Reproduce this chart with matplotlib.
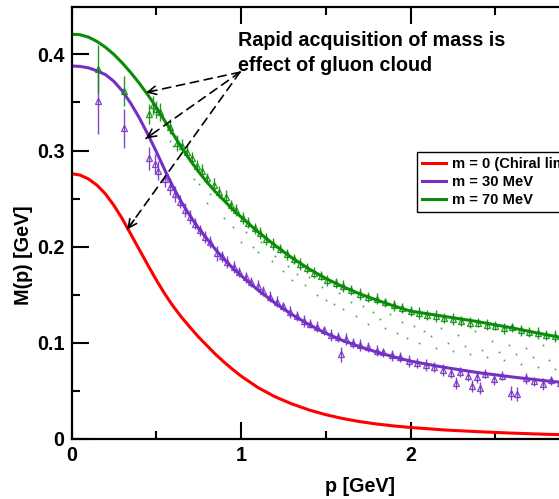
import matplotlib
matplotlib.use("Agg")
import matplotlib.pyplot as plt

plt.rcParams['font.family'] = ['Liberation Sans', 'DejaVu Sans']
plt.rcParams['font.weight'] = 'bold'

# curves
p_curve = [0, 0.05, 0.1, 0.15, 0.2, 0.25, 0.3, 0.35, 0.4, 0.45, 0.5, 0.55, 0.6, 0.65,
           0.7, 0.75, 0.8, 0.85, 0.9, 0.95, 1.0, 1.1, 1.2, 1.3, 1.4, 1.5, 1.6, 1.7,
           1.8, 1.9, 2.0, 2.2, 2.4, 2.6, 2.8, 3.0]
m_chiral = [0.276, 0.2745, 0.2705, 0.264, 0.255, 0.243, 0.229, 0.213, 0.197, 0.181,
            0.1655, 0.151, 0.138, 0.1265, 0.116, 0.106, 0.097, 0.088, 0.080, 0.0725,
            0.0655, 0.0535, 0.044, 0.0365, 0.0303, 0.0253, 0.0213, 0.0181, 0.0156,
            0.0136, 0.012, 0.0094, 0.0076, 0.0061, 0.0049, 0.004]
m_30 = [0.388, 0.3875, 0.386, 0.383, 0.379, 0.372, 0.362, 0.349, 0.334, 0.317, 0.299,
        0.280, 0.262, 0.246, 0.232, 0.219, 0.208, 0.197, 0.187, 0.178, 0.170, 0.155,
        0.1415, 0.1295, 0.119, 0.110, 0.1025, 0.096, 0.0905, 0.0855, 0.081, 0.0745,
        0.069, 0.0645, 0.0605, 0.057]
m_70 = [0.421, 0.4205, 0.418, 0.4135, 0.4075, 0.400, 0.391, 0.381, 0.370, 0.358, 0.345,
        0.331, 0.317, 0.303, 0.290, 0.278, 0.267, 0.257, 0.248, 0.239, 0.231, 0.2155,
        0.2015, 0.1885, 0.177, 0.167, 0.1585, 0.151, 0.1445, 0.1385, 0.133, 0.1275,
        0.122, 0.1155, 0.1085, 0.102]

# lattice points, m = 30 MeV
p_lat30 = [0.155, 0.31, 0.46, 0.49, 0.51, 0.55, 0.58, 0.61, 0.64, 0.67, 0.70, 0.73, 0.76,
           0.79, 0.82, 0.86, 0.89, 0.92, 0.96, 0.99, 1.03, 1.06, 1.10, 1.13, 1.17, 1.21,
           1.25, 1.29, 1.33, 1.37, 1.41, 1.45, 1.49, 1.53, 1.57, 1.59, 1.62, 1.66, 1.70,
           1.75, 1.80, 1.84, 1.89, 1.94, 1.99, 2.04, 2.09, 2.14, 2.19, 2.24, 2.27, 2.29,
           2.34, 2.36, 2.39, 2.41, 2.44, 2.49, 2.54, 2.59, 2.63, 2.68, 2.73, 2.78, 2.83,
           2.88, 2.93]
m_lat30 = [0.352, 0.323, 0.292, 0.286, 0.279, 0.270, 0.262, 0.255, 0.247, 0.238, 0.231,
           0.224, 0.217, 0.210, 0.205, 0.193, 0.190, 0.184, 0.179, 0.174, 0.168, 0.163,
           0.159, 0.154, 0.148, 0.143, 0.138, 0.132, 0.128, 0.123, 0.120, 0.117, 0.113,
           0.108, 0.106, 0.088, 0.104, 0.100, 0.098, 0.096, 0.092, 0.090, 0.087, 0.085,
           0.081, 0.079, 0.077, 0.075, 0.072, 0.069, 0.058, 0.070, 0.066, 0.055, 0.064,
           0.053, 0.068, 0.062, 0.066, 0.048, 0.047, 0.063, 0.060, 0.057, 0.061, 0.058,
           0.055]
e_lat30 = [0.035, 0.020, 0.012, 0.010, 0.010, 0.008, 0.008, 0.008, 0.007, 0.007, 0.007,
           0.006, 0.006, 0.006, 0.006, 0.008, 0.006, 0.006, 0.006, 0.005, 0.006, 0.005,
           0.006, 0.005, 0.006, 0.006, 0.005, 0.006, 0.005, 0.006, 0.005, 0.006, 0.005,
           0.006, 0.005, 0.008, 0.006, 0.005, 0.006, 0.005, 0.006, 0.005, 0.006, 0.005,
           0.006, 0.005, 0.006, 0.005, 0.006, 0.006, 0.006, 0.005, 0.006, 0.006, 0.006,
           0.006, 0.005, 0.006, 0.005, 0.007, 0.007, 0.006, 0.005, 0.006, 0.005, 0.006,
           0.006]

# lattice points, m = 70 MeV
p_lat70 = [0.155, 0.31, 0.46, 0.48, 0.50, 0.52, 0.58, 0.62, 0.65, 0.68, 0.71, 0.74, 0.77,
           0.80, 0.84, 0.87, 0.91, 0.94, 0.97, 1.01, 1.04, 1.08, 1.11, 1.15, 1.19, 1.23,
           1.27, 1.31, 1.35, 1.39, 1.43, 1.47, 1.51, 1.56, 1.60, 1.65, 1.70, 1.75, 1.80,
           1.85, 1.90, 1.95, 2.00, 2.05, 2.10, 2.15, 2.20, 2.25, 2.30, 2.35, 2.40, 2.45,
           2.50, 2.55, 2.60, 2.65, 2.70, 2.75, 2.80, 2.85, 2.90]
m_lat70 = [0.385, 0.362, 0.338, 0.347, 0.343, 0.340, 0.325, 0.308, 0.305, 0.299, 0.292,
           0.284, 0.279, 0.271, 0.264, 0.257, 0.252, 0.243, 0.238, 0.230, 0.225, 0.219,
           0.214, 0.208, 0.203, 0.198, 0.192, 0.187, 0.182, 0.178, 0.173, 0.170, 0.165,
           0.162, 0.159, 0.155, 0.151, 0.148, 0.146, 0.142, 0.139, 0.136, 0.133, 0.131,
           0.129, 0.128, 0.126, 0.125, 0.123, 0.121, 0.121, 0.119, 0.118, 0.115, 0.116,
           0.113, 0.111, 0.110, 0.108, 0.107, 0.105]
e_lat70 = [0.025, 0.016, 0.010, 0.010, 0.009, 0.009, 0.008, 0.008, 0.007, 0.007, 0.007,
           0.006, 0.007, 0.006, 0.007, 0.006, 0.007, 0.006, 0.006, 0.006, 0.006, 0.006,
           0.006, 0.006, 0.006, 0.005, 0.006, 0.005, 0.006, 0.005, 0.006, 0.005, 0.006,
           0.005, 0.006, 0.005, 0.006, 0.005, 0.006, 0.005, 0.006, 0.005, 0.005, 0.006,
           0.005, 0.006, 0.005, 0.006, 0.005, 0.006, 0.005, 0.006, 0.005, 0.006, 0.005,
           0.006, 0.005, 0.006, 0.005, 0.006, 0.005]

# faint green dots between the two curves
p_dots = [0.55, 0.58, 0.60, 0.72, 0.75, 0.80, 0.82, 0.90, 0.95, 1.00, 1.03, 1.07, 1.10,
          1.12, 1.18, 1.20, 1.25, 1.28, 1.30, 1.33, 1.38, 1.40, 1.45, 1.48, 1.50, 1.55,
          1.58, 1.60, 1.65, 1.68, 1.72, 1.75, 1.78, 1.82, 1.85, 1.88, 1.92, 1.95, 1.98,
          2.02, 2.05, 2.08, 2.12, 2.15, 2.18, 2.22, 2.25, 2.28, 2.32, 2.35, 2.38, 2.42,
          2.45, 2.48, 2.52, 2.55, 2.58, 2.62, 2.65, 2.68, 2.72, 2.75, 2.78, 2.82, 2.85,
          2.88, 2.92]
m_dots = [0.330, 0.310, 0.305, 0.270, 0.265, 0.245, 0.255, 0.230, 0.220, 0.205, 0.215,
          0.200, 0.195, 0.205, 0.185, 0.190, 0.175, 0.180, 0.165, 0.172, 0.160, 0.168,
          0.150, 0.158, 0.145, 0.140, 0.152, 0.135, 0.142, 0.128, 0.138, 0.120, 0.132,
          0.125, 0.115, 0.130, 0.110, 0.122, 0.105, 0.118, 0.100, 0.112, 0.107, 0.095,
          0.115, 0.100, 0.092, 0.108, 0.097, 0.088, 0.112, 0.093, 0.085, 0.102, 0.090,
          0.082, 0.098, 0.088, 0.078, 0.095, 0.085, 0.075, 0.098, 0.082, 0.073, 0.090,
          0.080]

x_ticks = [0, 1, 2]
x_tick_labels = ['0', '1', '2']
y_ticks = [0, 0.1, 0.2, 0.3, 0.4]
y_tick_labels = ['0', '0.1', '0.2', '0.3', '0.4']

red = '#ff0000'
purple = '#7430c4'
green = '#0a8c0a'

fig = plt.figure(figsize=(5.59, 4.99), dpi=100)
ax = fig.add_axes([71.5 / 559, 60 / 499, 508.5 / 559, 431.7 / 499])

ax.plot(p_dots, m_dots, ls='none', marker='s', ms=1.2, mew=0, color=green, alpha=0.8)
ax.errorbar(p_lat30, m_lat30, yerr=e_lat30, fmt='^', ms=4.5, mfc='none', mec=purple,
            mew=0.9, ecolor=purple, elinewidth=1.0, capsize=0, alpha=0.9)
ax.errorbar(p_lat70, m_lat70, yerr=e_lat70, fmt='^', ms=4.5, mfc='none', mec=green,
            mew=0.9, ecolor=green, elinewidth=1.0, capsize=0, alpha=0.9)

ax.plot(p_curve, m_chiral, color=red, lw=2.2, label='m = 0 (Chiral limit)')
ax.plot(p_curve, m_30, color=purple, lw=2.2, label='m = 30 MeV')
ax.plot(p_curve, m_70, color=green, lw=2.2, label='m = 70 MeV')

ax.set_xlim(0, 3)
ax.set_ylim(0, 0.449)
ax.set_xticks(x_ticks)
ax.set_xticklabels(x_tick_labels)
ax.set_yticks(y_ticks)
ax.set_yticklabels(y_tick_labels)
ax.set_xticks([0.5, 1.5, 2.5], minor=True)
ax.set_yticks([0.05, 0.15, 0.25, 0.35], minor=True)
ax.tick_params(which='both', direction='in', top=True, right=True, width=1.5,
               labelsize=14.2, pad=5)
ax.tick_params(which='major', length=12)
ax.tick_params(which='minor', length=6)
for s in ax.spines.values():
    s.set_linewidth(1.6)

ax.set_xlabel('p [GeV]', fontsize=14.2, fontweight='bold')
ax.set_ylabel('M(p) [GeV]', fontsize=14.2, fontweight='bold')
ax.xaxis.set_label_coords(0.567, -0.089)
ax.yaxis.set_label_coords(-0.076, 0.426)

# annotation with dashed arrows
src = (0.994, 0.3815)
targets = [(0.4395, 0.3604), (0.4395, 0.3126), (0.329, 0.218)]
for tx, ty in targets:
    ax.annotate('', xy=(tx, ty), xytext=src,
                arrowprops=dict(arrowstyle='-', color='black', lw=1.2,
                                linestyle=(0, (5, 3.5)), shrinkA=0, shrinkB=0))
    hx = tx + (src[0] - tx) * 0.06
    hy = ty + (src[1] - ty) * 0.06
    ax.annotate('', xy=(tx, ty), xytext=(hx, hy),
                arrowprops=dict(arrowstyle='->,head_length=0.6,head_width=0.3',
                                color='black', lw=1.2, shrinkA=0, shrinkB=0))

ax.text((238 - 71.5) / 508.5, (439 - 31) / 431.7,
        'Rapid acquisition of mass is\neffect of gluon cloud',
        transform=ax.transAxes, fontsize=14.2, fontweight='bold',
        ha='left', va='top', linespacing=1.4)

leg = ax.legend(loc='upper left', bbox_to_anchor=(0.679, 0.665), borderaxespad=0,
                fancybox=False, edgecolor='black', framealpha=1,
                prop={'size': 10.6, 'weight': 'bold'}, handlelength=1.65,
                handletextpad=0.4, labelspacing=0.28, borderpad=0.35)
leg.get_frame().set_linewidth(1.0)

fig.savefig('out.png', dpi=100)
